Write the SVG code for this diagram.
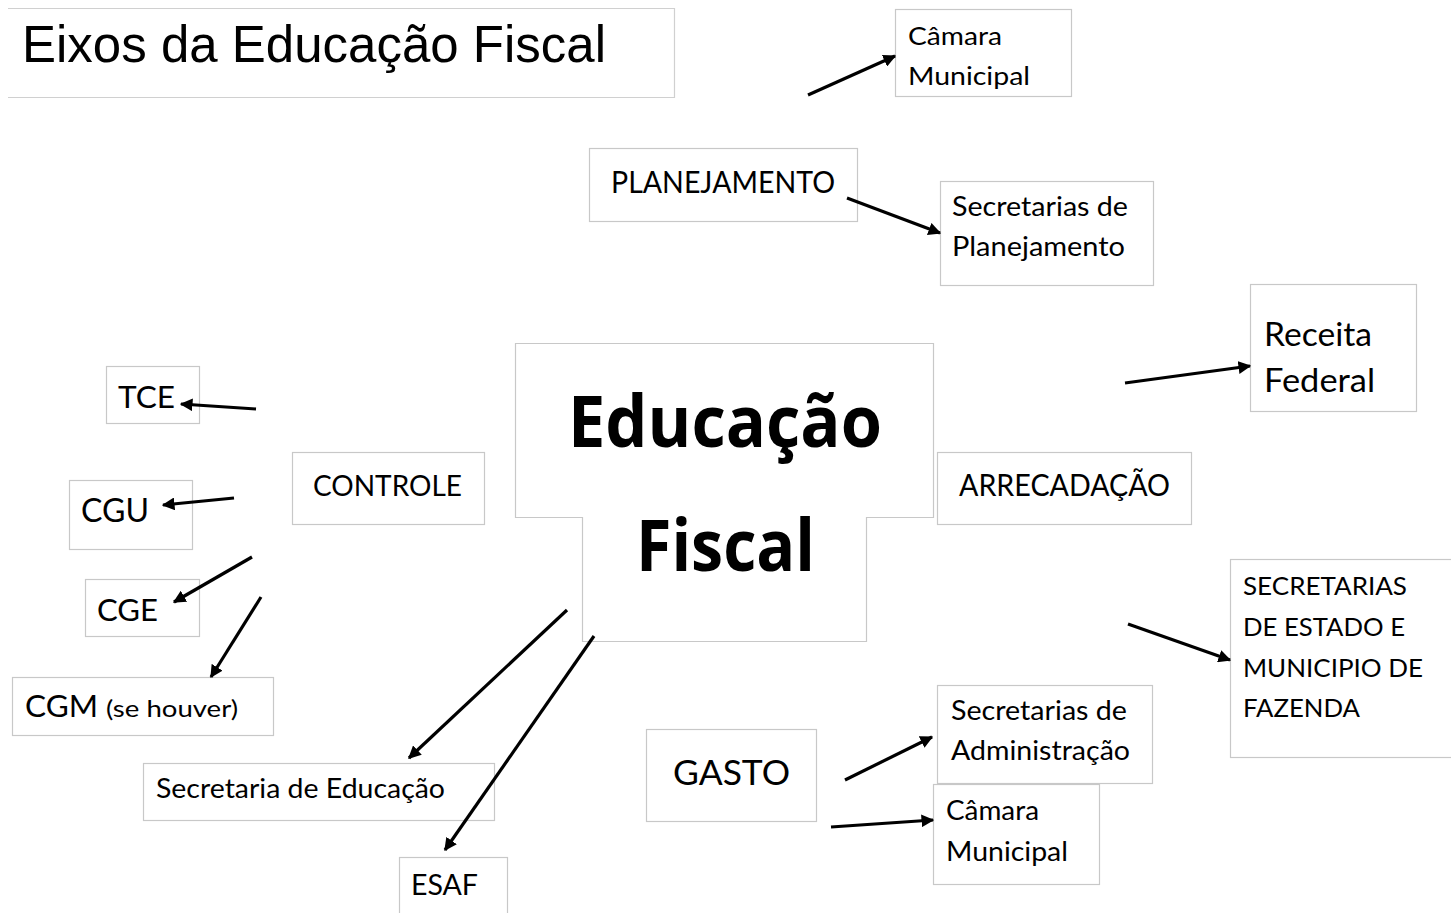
<svg xmlns="http://www.w3.org/2000/svg" width="1451" height="913" viewBox="0 0 1451 913">
<style>
.box{fill:#fff;stroke:#c8c8c8;stroke-width:1.2}
.t{font-family:Lato,"Open Sans",sans-serif;fill:#000}
.b{font-family:"Open Sans",Lato,sans-serif;font-weight:bold;fill:#000}
.title{font-family:"Liberation Sans",Arial,sans-serif;fill:#000}
.c line{stroke:#000;stroke-width:3.2;marker-end:url(#ah)}
</style>
<defs>
<marker id="ah" viewBox="0 0 10 10" refX="9" refY="5" markerWidth="4" markerHeight="4" orient="auto" markerUnits="strokeWidth">
<path d="M0,0 L10,5 L0,10 z" fill="#000"/>
</marker>
</defs>
<rect width="1451" height="913" fill="#fff"/>
<g id="title"><path d="M8,8.5 H674.5 V97.5 H8" fill="#fff" stroke="#d0d0d0" stroke-width="1.2"/>
<text class="title" x="22" y="62" font-size="52" textLength="584" lengthAdjust="spacingAndGlyphs">Eixos da Educação Fiscal</text></g>
<g id="center"><path class="box" d="M515.5,343.5 H933.5 V517.5 H866.5 V641.5 H582.5 V517.5 H515.5 Z"/>
<text class="b" x="568" y="447" font-size="72" textLength="314" lengthAdjust="spacingAndGlyphs">Educação</text>
<text class="b" x="636" y="571" font-size="72" textLength="179" lengthAdjust="spacingAndGlyphs">Fiscal</text></g>
<g id="planejamento"><rect class="box" x="589.5" y="148.5" width="268" height="73"/>
<text class="t" x="611" y="193" font-size="30" textLength="224" lengthAdjust="spacingAndGlyphs">PLANEJAMENTO</text></g>
<g id="camara1"><rect class="box" x="895.5" y="9.5" width="176" height="87"/>
<text class="t" x="908" y="45" font-size="25" textLength="94" lengthAdjust="spacingAndGlyphs">Câmara</text>
<text class="t" x="908" y="85" font-size="25" textLength="122" lengthAdjust="spacingAndGlyphs">Municipal</text></g>
<g id="secplan"><rect class="box" x="940.5" y="181.5" width="213" height="104"/>
<text class="t" x="952" y="216" font-size="27" textLength="176" lengthAdjust="spacingAndGlyphs">Secretarias de</text>
<text class="t" x="952" y="256" font-size="27" textLength="173" lengthAdjust="spacingAndGlyphs">Planejamento</text></g>
<g id="receita"><rect class="box" x="1250.5" y="284.5" width="166" height="127"/>
<text class="t" x="1264" y="346" font-size="32" textLength="108" lengthAdjust="spacingAndGlyphs">Receita</text>
<text class="t" x="1264" y="392" font-size="32" textLength="111" lengthAdjust="spacingAndGlyphs">Federal</text></g>
<g id="arrecadacao"><rect class="box" x="937.5" y="452.5" width="254" height="72"/>
<text class="t" x="959" y="496" font-size="30" textLength="211" lengthAdjust="spacingAndGlyphs">ARRECADAÇÃO</text></g>
<g id="secfaz"><rect class="box" x="1230.5" y="559.5" width="225" height="198"/>
<text class="t" x="1243" y="595" font-size="25" textLength="164" lengthAdjust="spacingAndGlyphs">SECRETARIAS</text>
<text class="t" x="1243" y="636" font-size="25" textLength="162" lengthAdjust="spacingAndGlyphs">DE ESTADO E</text>
<text class="t" x="1243" y="677" font-size="25" textLength="180" lengthAdjust="spacingAndGlyphs">MUNICIPIO DE</text>
<text class="t" x="1243" y="717" font-size="25" textLength="117" lengthAdjust="spacingAndGlyphs">FAZENDA</text></g>
<g id="secadm"><rect class="box" x="937.5" y="685.5" width="215" height="98"/>
<text class="t" x="951" y="720" font-size="27" textLength="176" lengthAdjust="spacingAndGlyphs">Secretarias de</text>
<text class="t" x="951" y="760" font-size="27" textLength="179" lengthAdjust="spacingAndGlyphs">Administração</text></g>
<g id="camara2"><rect class="box" x="933.5" y="784.5" width="166" height="100"/>
<text class="t" x="946" y="820" font-size="27" textLength="93" lengthAdjust="spacingAndGlyphs">Câmara</text>
<text class="t" x="946" y="861" font-size="27" textLength="122" lengthAdjust="spacingAndGlyphs">Municipal</text></g>
<g id="gasto"><rect class="box" x="646.5" y="729.5" width="170" height="92"/>
<text class="t" x="673" y="785" font-size="34" textLength="117" lengthAdjust="spacingAndGlyphs">GASTO</text></g>
<g id="controle"><rect class="box" x="292.5" y="452.5" width="192" height="72"/>
<text class="t" x="313" y="496" font-size="28" textLength="149" lengthAdjust="spacingAndGlyphs">CONTROLE</text></g>
<g id="tce"><rect class="box" x="106.5" y="366.5" width="93" height="57"/>
<text class="t" x="118" y="408" font-size="31" textLength="57" lengthAdjust="spacingAndGlyphs">TCE</text></g>
<g id="cgu"><rect class="box" x="69.5" y="480.5" width="123" height="69"/>
<text class="t" x="81" y="522" font-size="32" textLength="68" lengthAdjust="spacingAndGlyphs">CGU</text></g>
<g id="cge"><rect class="box" x="85.5" y="579.5" width="114" height="57"/>
<text class="t" x="97" y="621" font-size="31" textLength="61" lengthAdjust="spacingAndGlyphs">CGE</text></g>
<g id="cgm"><rect class="box" x="12.5" y="677.5" width="261" height="58"/>
<text class="t" x="25" y="717" font-size="31" textLength="73" lengthAdjust="spacingAndGlyphs">CGM</text>
<text class="t" x="106" y="717" font-size="24" textLength="132" lengthAdjust="spacingAndGlyphs">(se houver)</text></g>
<g id="seceduc"><rect class="box" x="143.5" y="763.5" width="351" height="57"/>
<text class="t" x="156" y="798" font-size="27" textLength="289" lengthAdjust="spacingAndGlyphs">Secretaria de Educação</text></g>
<g id="esaf"><rect class="box" x="399.5" y="857.5" width="108" height="60"/>
<text class="t" x="411" y="895" font-size="28" textLength="67" lengthAdjust="spacingAndGlyphs">ESAF</text></g>
<g id="connectors" class="c">
<line x1="808" y1="95" x2="895" y2="56"/>
<line x1="847" y1="198" x2="940" y2="233"/>
<line x1="1125" y1="383" x2="1250" y2="366"/>
<line x1="1128" y1="624" x2="1230" y2="660"/>
<line x1="845" y1="780" x2="932" y2="737"/>
<line x1="831" y1="827" x2="933" y2="820"/>
<line x1="256" y1="409" x2="181" y2="404"/>
<line x1="234" y1="498" x2="163" y2="505"/>
<line x1="252" y1="557" x2="174" y2="602"/>
<line x1="261" y1="597" x2="211" y2="677"/>
<line x1="567" y1="610" x2="409" y2="758"/>
<line x1="594" y1="636" x2="445" y2="850"/>
</g>
</svg>
